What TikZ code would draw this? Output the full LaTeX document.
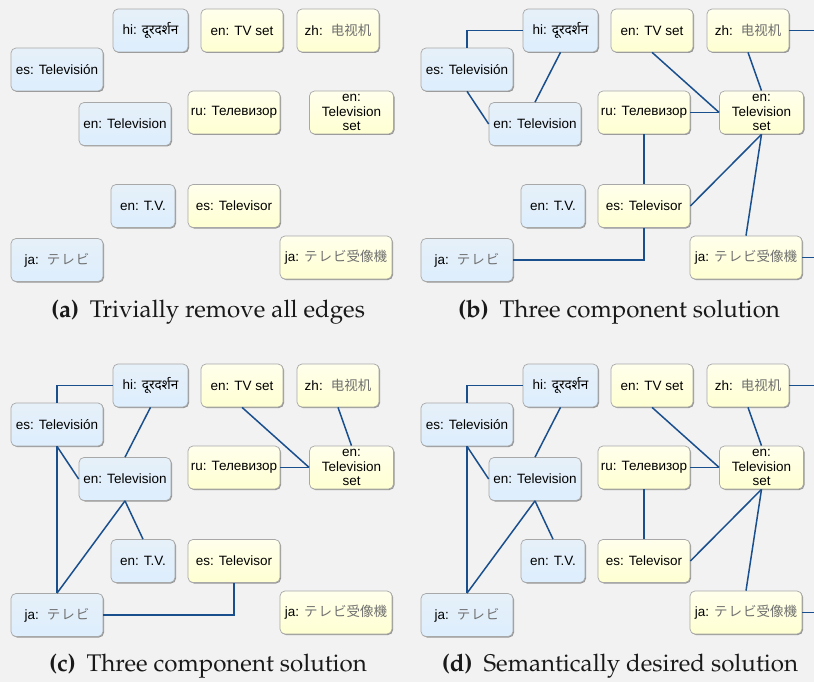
\documentclass[tikz,border=0pt]{standalone}
\usepackage[T1]{fontenc}
\usepackage{fontspec}
\setmainfont{Liberation Sans}
\newfontfamily\devfont[Script=Devanagari]{Noto Sans}
\newfontfamily\jpfont{Noto Sans CJK JP}
\newfontfamily\scfont{Noto Sans CJK SC}
\usetikzlibrary{shadows}
\definecolor{bgcol}{HTML}{F2F2F2}
\definecolor{boxborder}{HTML}{A8A8A8}
\definecolor{bluetop}{HTML}{E6F0F8}
\definecolor{bluebot}{HTML}{DDEEFD}
\definecolor{yeltop}{HTML}{FFFFEC}
\definecolor{yelbot}{HTML}{FFFFD2}
\definecolor{edgeblue}{HTML}{1A4F8E}
\definecolor{cjkgray}{HTML}{707070}
\newcommand\capfont{\fontencoding{T1}\fontfamily{ppl}\selectfont}
\newcommand\jp[1]{{\jpfont\color{cjkgray}#1}}
\newcommand\zhs[1]{{\scfont\color{cjkgray}#1}}
\tikzset{
  lbox/.style={rounded corners=5pt, draw=boxborder, line width=0.7pt,
    drop shadow={shadow xshift=1pt, shadow yshift=-1pt, opacity=0.55, fill=black!70},
    minimum height=43pt, inner sep=1pt, align=center,
    font=\fontsize{13.5}{14.5}\selectfont, text=black},
  blu/.style={lbox, top color=bluetop, bottom color=bluebot},
  yel/.style={lbox, top color=yeltop, bottom color=yelbot},
  edge/.style={draw=edgeblue, line width=1.5pt},
  captxt/.style={font=\capfont\fontsize{24.1}{28}\selectfont, text=black!90, inner sep=0pt}
}
\newcommand\allnodes{%
  \node[blu, minimum width=75pt] (hi) at (150.5,-30.5) {hi: {\devfont दूरदर्शन}};
  \node[yel, minimum width=82pt] (tvset) at (242,-30.5) {en: TV set};
  \node[yel, minimum width=82pt] (zh) at (338,-30.5) {zh:\hspace{8pt}\zhs{电视机}};
  \node[blu, minimum width=92pt] (es) at (57,-69.5) {es: Televisión};
  \node[blu, minimum width=92pt] (entel) at (125,-124) {en: Television};
  \node[yel, minimum width=92pt] (ru) at (234,-112.5) {ru: Телевизор};
  \node[yel, minimum width=84pt] (telset) at (351.5,-112.5) {en:\\Television\\set};
  \node[blu, minimum width=64pt] (tv) at (143,-206) {en: T.V.};
  \node[yel, minimum width=92pt] (televisor) at (234,-206) {es: Televisor};
  \node[blu, minimum width=92pt] (ja) at (57,-260) {ja:\hspace{8pt}\jp{テ\hspace{1pt}レ\hspace{1pt}ビ}};
  \node[yel, minimum width=112pt] (jatv) at (336,-257.5) {ja:\hspace{5pt}\jp{テ\hspace{1pt}レ\hspace{1pt}ビ受像機}};
}
\begin{document}
\begin{tikzpicture}[x=1pt,y=1pt]
\fill[bgcol] (0,0) rectangle (814,-682);
\useasboundingbox (0,0) rectangle (814,-682);
% panel a
\begin{scope}[name prefix=a-]
  \allnodes
\end{scope}
% panel b
\begin{scope}[shift={(410pt,0pt)}, name prefix=b-]
  \allnodes
  \coordinate (zhend) at (404,-30.5);
  \coordinate (jatvend) at (404,-257.5);
  \draw[edge] (hi.west) -| (es.north);
  \draw[edge] (hi.south) -- (entel.north);
  \draw[edge] (es.south) -- (entel.west);
  \draw[edge] (tvset.south) -- (telset.west);
  \draw[edge] (zh.south) -- (telset.north);
  \draw[edge] (zh.east) -- (zhend);
  \draw[edge] (ru.east) -- (telset.west);
  \draw[edge] (ru.south) -- (televisor.north);
  \draw[edge] (televisor.east) -- (telset.south);
  \draw[edge] (jatv.north) -- (telset.south);
  \draw[edge] (jatv.east) -- (jatvend);
  \draw[edge] (ja.east) -| (televisor.south);
\end{scope}
% panel c
\begin{scope}[shift={(0pt,-355pt)}, name prefix=c-]
  \allnodes
  \draw[edge] (hi.west) -| (es.north);
  \draw[edge] (hi.south) -- (entel.north);
  \draw[edge] (es.south) -- (entel.west);
  \draw[edge] (es.south) -- (ja.north);
  \draw[edge] (entel.south) -- (ja.north);
  \draw[edge] (entel.south) -- (tv.north);
  \draw[edge] (tvset.south) -- (telset.west);
  \draw[edge] (zh.south) -- (telset.north);
  \draw[edge] (ru.east) -- (telset.west);
  \draw[edge] (ja.east) -| (televisor.south);
\end{scope}
% panel d
\begin{scope}[shift={(410pt,-355pt)}, name prefix=d-]
  \allnodes
  \coordinate (zhend) at (404,-30.5);
  \coordinate (jatvend) at (404,-257.5);
  \draw[edge] (hi.west) -| (es.north);
  \draw[edge] (hi.south) -- (entel.north);
  \draw[edge] (es.south) -- (entel.west);
  \draw[edge] (es.south) -- (ja.north);
  \draw[edge] (entel.south) -- (ja.north);
  \draw[edge] (entel.south) -- (tv.north);
  \draw[edge] (tvset.south) -- (telset.west);
  \draw[edge] (zh.south) -- (telset.north);
  \draw[edge] (zh.east) -- (zhend);
  \draw[edge] (ru.east) -- (telset.west);
  \draw[edge] (ru.south) -- (televisor.north);
  \draw[edge] (televisor.east) -- (telset.south);
  \draw[edge] (jatv.north) -- (telset.south);
  \draw[edge] (jatv.east) -- (jatvend);
\end{scope}
% captions
\node[captxt] (capa) at (208,-312.5) {\textbf{(a)}\hspace{0.45em}Trivially remove all edges};
\node[captxt] (capb) at (619,-312.5) {\textbf{(b)}\hspace{0.45em}Three component solution};
\node[captxt] (capc) at (208,-666.5) {\textbf{(c)}\hspace{0.45em}Three component solution};
\node[captxt] (capd) at (620,-666.5) {\textbf{(d)}\hspace{0.45em}Semantically desired solution};
\end{tikzpicture}
\end{document}
